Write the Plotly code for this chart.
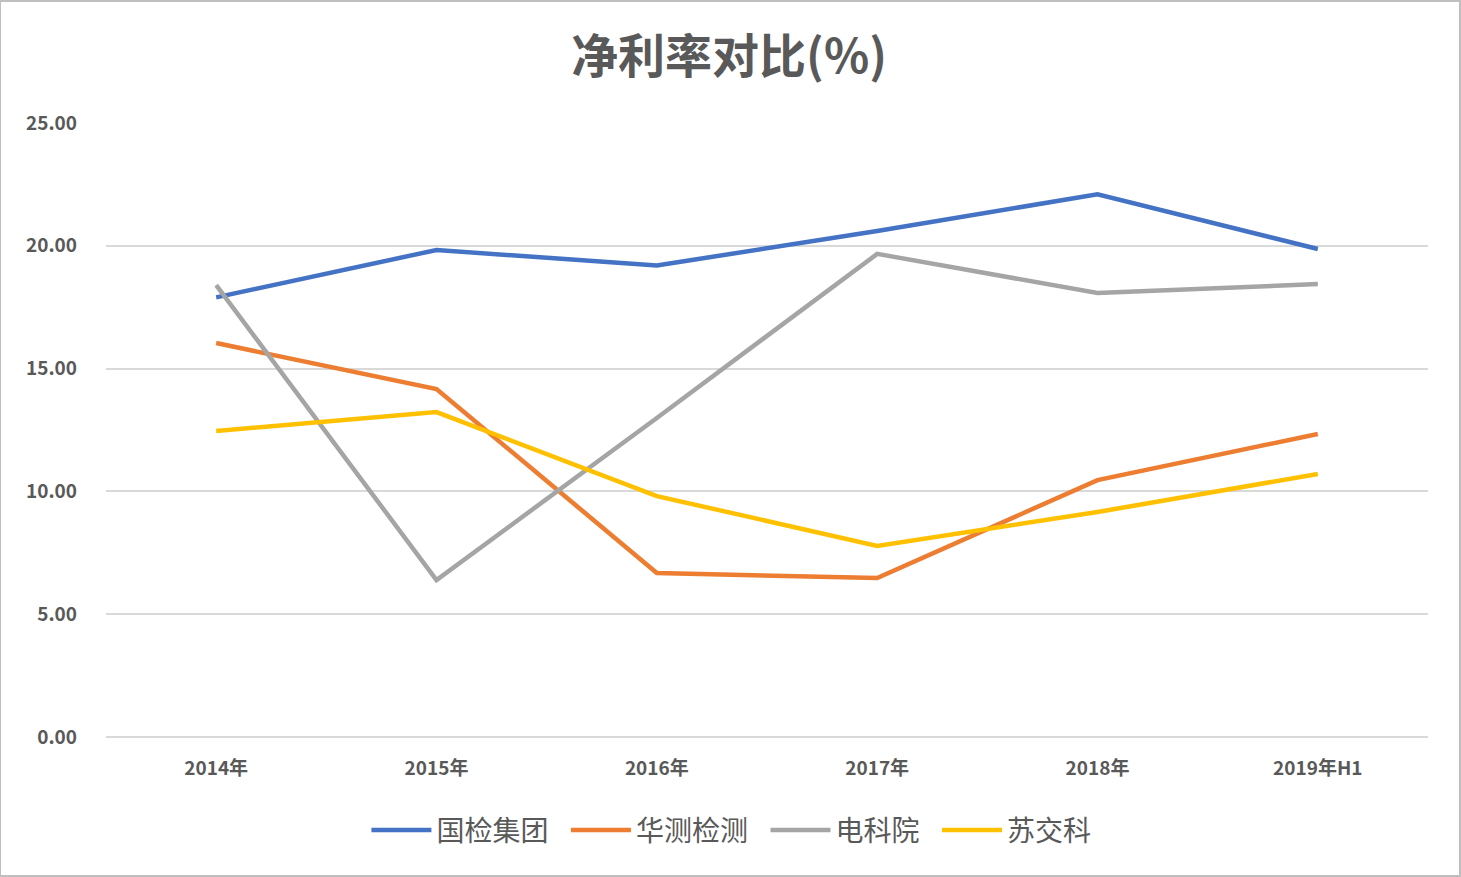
import plotly.graph_objects as go

categories = ["2014年", "2015年", "2016年", "2017年", "2018年", "2019年H1"]
guojian = [17.9, 19.83, 19.2, 20.6, 22.1, 19.87]
huace = [16.04, 14.17, 6.68, 6.47, 10.46, 12.34]
diankeyuan = [18.4, 6.39, 12.99, 19.67, 18.08, 18.44]
sujiaoke = [12.46, 13.23, 9.81, 7.78, 9.16, 10.71]

series = [
    ("国检集团", guojian, "#4472C4"),
    ("华测检测", huace, "#ED7D31"),
    ("电科院", diankeyuan, "#A5A5A5"),
    ("苏交科", sujiaoke, "#FFC000"),
]

font_family = "Noto Sans CJK SC, Noto Sans, sans-serif"
pad = "\u00a0\u00a0"

fig = go.Figure()
for name, vals, color in series:
    fig.add_trace(go.Scatter(
        x=categories, y=vals, name=name + pad, mode="lines",
        line=dict(color=color, width=4.5),
    ))

fig.update_layout(
    width=1461, height=877,
    margin=dict(l=106, r=33, t=123, b=140),
    paper_bgcolor="white", plot_bgcolor="white",
    title=dict(text="净利率对比(%)", x=0.499, xanchor="center", y=0.936, yanchor="middle",
               font=dict(family=font_family, size=47, color="#595959", weight="bold")),
    font=dict(family=font_family, color="#595959"),
    showlegend=True,
    legend=dict(orientation="h", x=0.478, xanchor="center", y=-0.152, yanchor="middle",
                font=dict(size=28, color="#595959"), itemwidth=60,
                traceorder="normal"),
    xaxis=dict(showgrid=False, showline=False, ticks="", zeroline=False,
               tickfont=dict(size=19, color="#595959", family=font_family, weight="bold"),
               ticklabelstandoff=18, range=[-0.5, 5.5]),
    yaxis=dict(range=[0, 25], dtick=5, tickformat=".2f", showgrid=True,
               gridcolor="#D9D9D9", gridwidth=1.5, zeroline=True,
               zerolinecolor="#D9D9D9", zerolinewidth=1.5, showline=False,
               ticks="", ticklabelstandoff=28,
               tickfont=dict(size=19, color="#595959", family=font_family, weight="bold")),
    shapes=[dict(type="rect", xref="paper", yref="paper", x0=-106/1322, x1=1+32/1322,
                 y0=-139/614, y1=1+122/614, line=dict(color="#BFBFBF", width=2))],
)

fig.write_html("out.html")
